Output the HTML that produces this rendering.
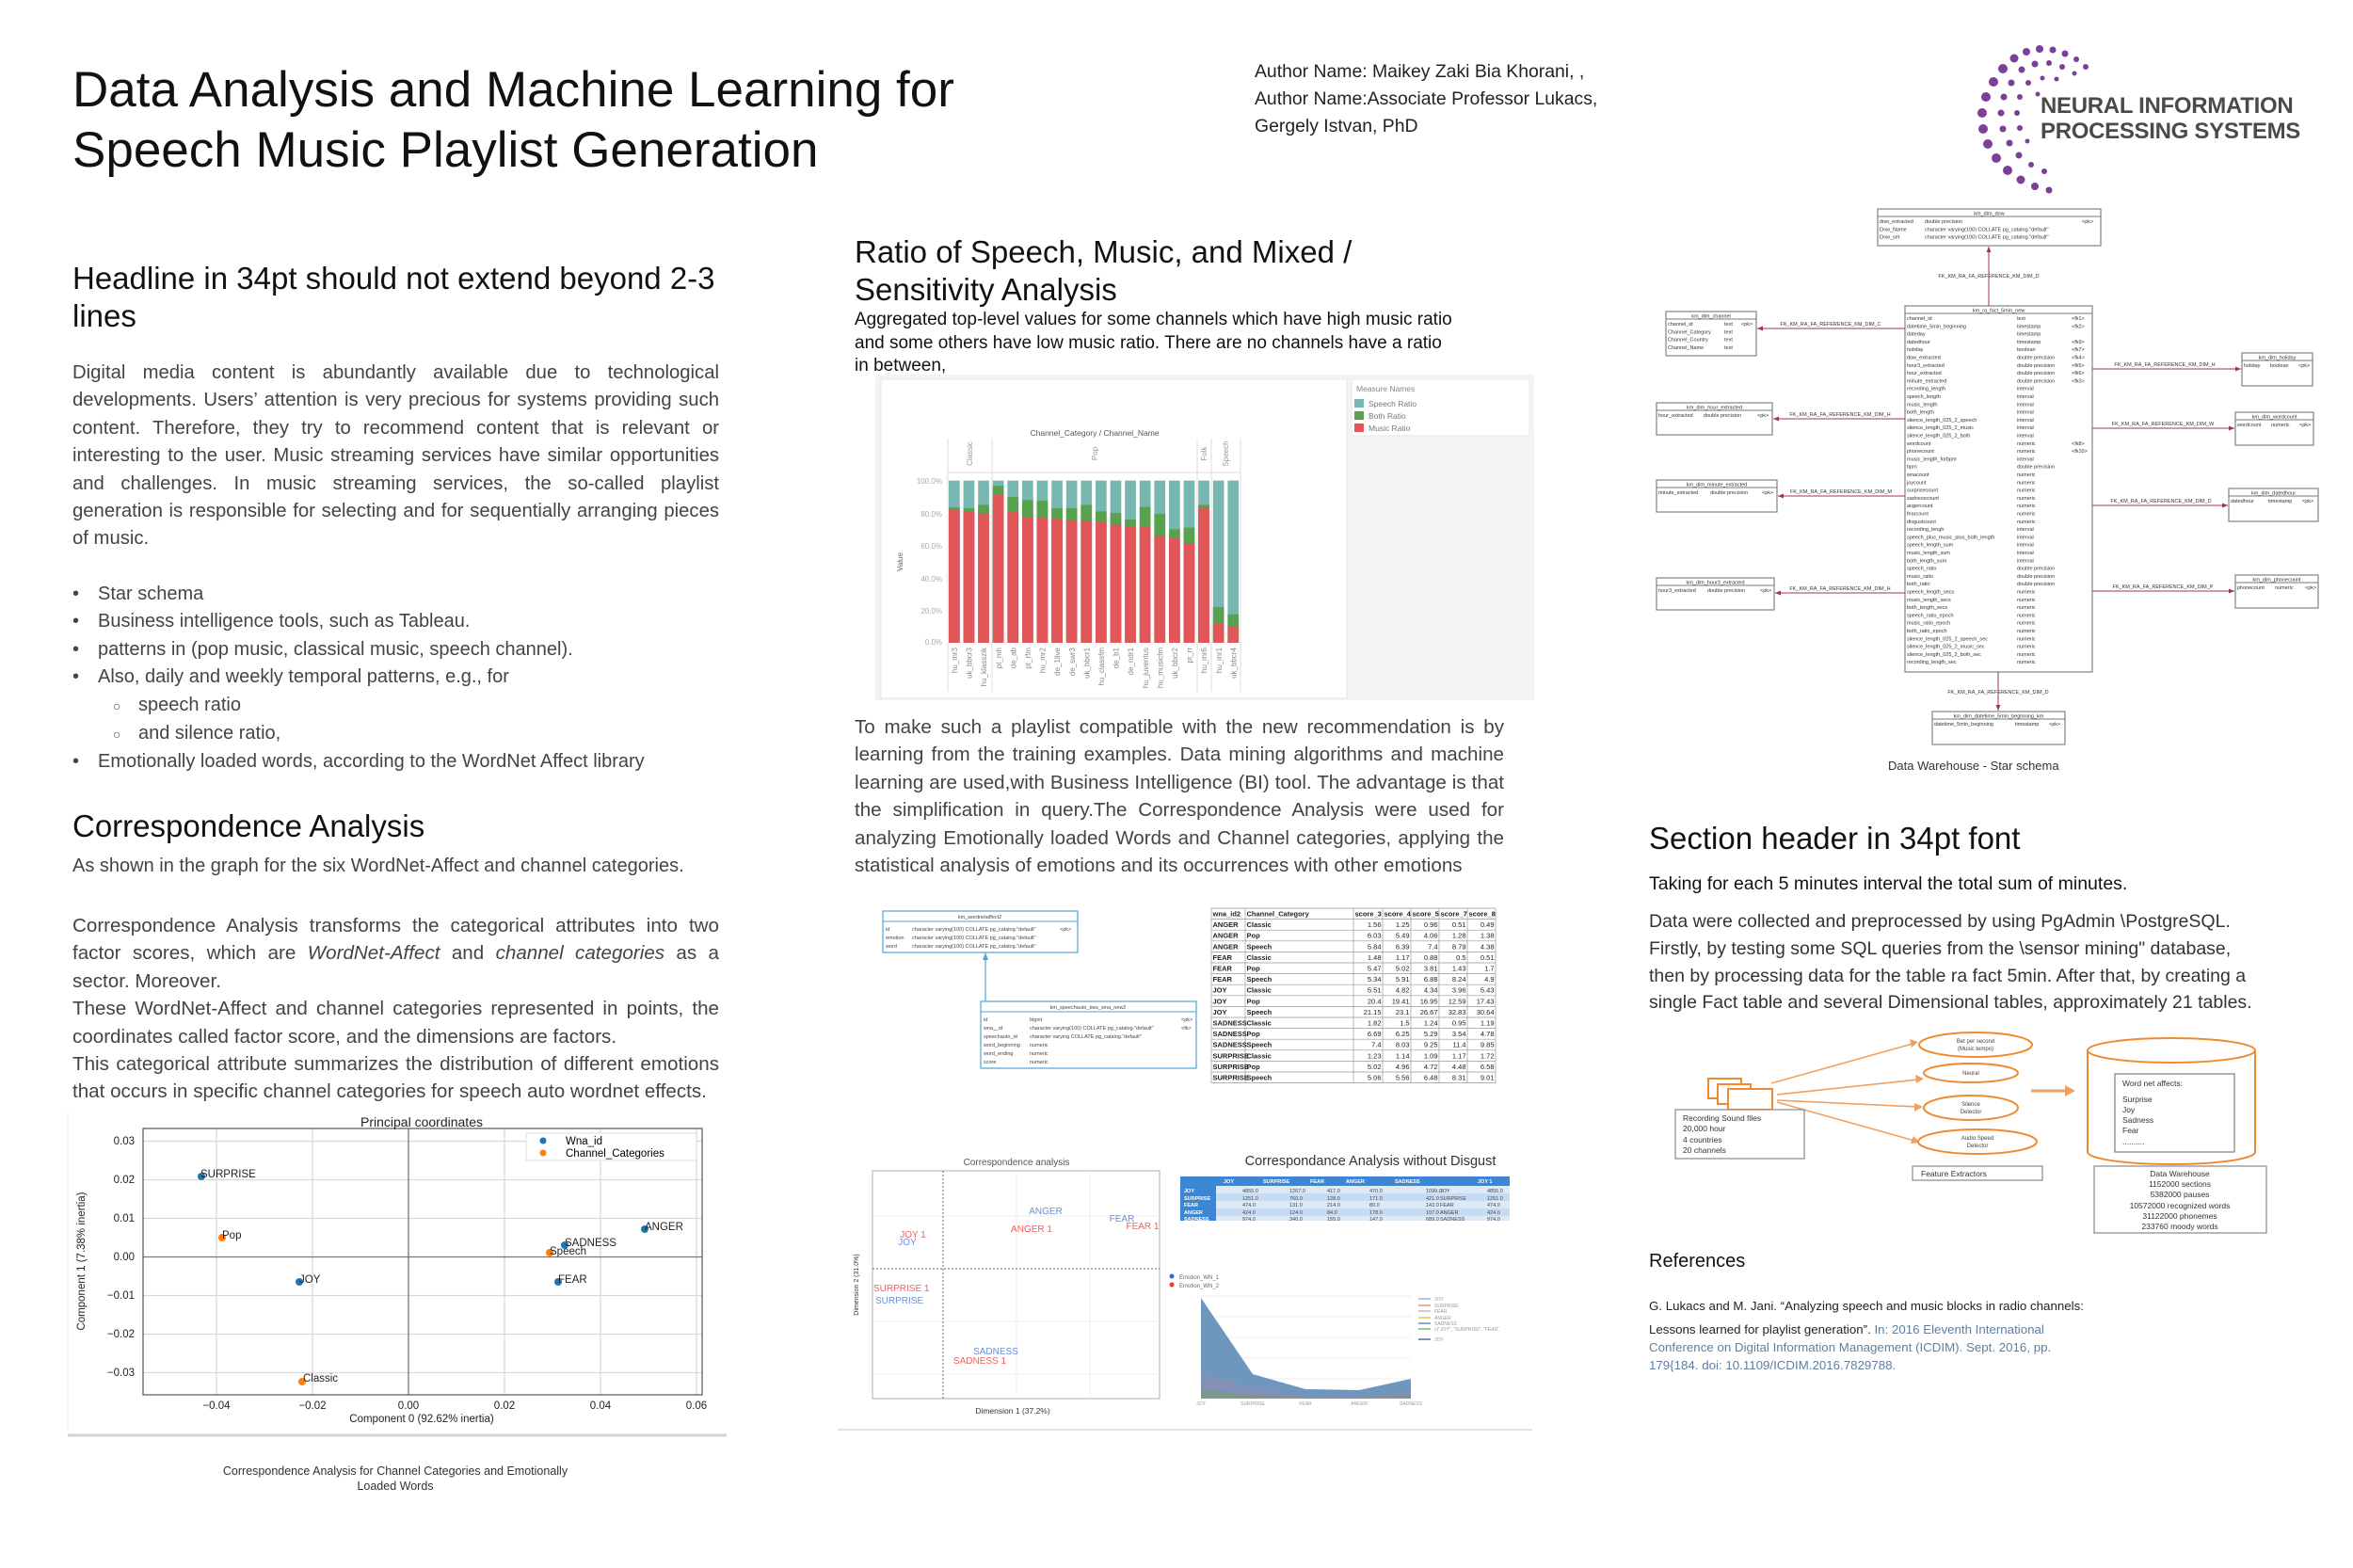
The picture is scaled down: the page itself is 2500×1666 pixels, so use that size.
<!DOCTYPE html>
<html><head><meta charset="utf-8"><style>
*{margin:0;padding:0;box-sizing:border-box}
body{width:2500px;height:1666px;background:#fff;position:relative;overflow:hidden;font-family:"Liberation Sans",Arial,sans-serif;color:#222}
.a{position:absolute;white-space:nowrap}
.p{position:absolute;font-size:20.6px;line-height:29.4px;text-align:justify;color:#444;white-space:normal}
.h{position:absolute;font-size:33px;line-height:40px;color:#111}
ul{list-style:none}
</style></head><body>

<div class="a" style="left:77px;top:64px;font-size:53px;line-height:64px;color:#111">Data Analysis and Machine Learning for<br>Speech Music Playlist Generation</div>
<div class="a" style="left:1333px;top:62px;font-size:19.4px;line-height:29px;color:#222">Author Name: Maikey Zaki Bia Khorani, ,<br>Author Name:Associate Professor Lukacs,<br>Gergely Istvan, PhD</div>
<div class="a" style="left:2168px;top:99px;font-size:24px;line-height:27px;color:#4a4a4a;font-weight:bold;letter-spacing:-0.3px">NEURAL INFORMATION<br>PROCESSING SYSTEMS</div>

<div class="h" style="left:77px;top:276px;width:700px">Headline in 34pt should not extend beyond 2-3<br>lines</div>
<div class="p" style="left:77px;top:382px;width:687px;font-size:20.3px">Digital media content is abundantly available due to technological developments. Users’ attention is very precious for systems providing such content. Therefore, they try to recommend content that is relevant or interesting to the user. Music streaming services have similar opportunities and challenges. In music streaming services, the so-called playlist generation is responsible for selecting and for sequentially arranging pieces of music.</div>
<div class="a" style="left:77px;top:617px;font-size:20px;line-height:29.4px;color:#444">
<div><span style="display:inline-block;width:27px">•</span>Star schema</div>
<div><span style="display:inline-block;width:27px">•</span>Business intelligence tools, such as Tableau.</div>
<div><span style="display:inline-block;width:27px">•</span>patterns in (pop music, classical music, speech channel).</div>
<div><span style="display:inline-block;width:27px">•</span>Also, daily and weekly temporal patterns, e.g., for</div>
<div style="padding-left:43px"><span style="display:inline-block;width:27px;font-size:14px">○</span>speech ratio</div>
<div style="padding-left:43px"><span style="display:inline-block;width:27px;font-size:14px">○</span>and silence ratio,</div>
<div><span style="display:inline-block;width:27px">•</span>Emotionally loaded words, according to the WordNet Affect library</div>
</div>
<div class="h" style="left:77px;top:858px">Correspondence Analysis</div>
<div class="a" style="left:77px;top:909px;font-size:20px;color:#444">As shown in the graph for the six WordNet-Affect and channel categories.</div>
<div class="p" style="left:77px;top:969px;width:687px">Correspondence Analysis transforms the categorical attributes into two factor scores, which are <i>WordNet-Affect</i> and <i>channel categories</i> as a sector. Moreover.<br>These WordNet-Affect and channel categories represented in points, the coordinates called factor score, and the dimensions are factors.<br>This categorical attribute summarizes the distribution of different emotions that occurs in specific channel categories for speech auto wordnet effects.</div>
<div class="a" style="left:180px;top:1555px;width:480px;text-align:center;font-size:12.5px;line-height:16px;color:#333;white-space:normal">Correspondence Analysis for Channel Categories and Emotionally<br>Loaded Words</div>

<div class="h" style="left:908px;top:248px">Ratio of Speech, Music, and Mixed /<br>Sensitivity Analysis</div>
<div class="a" style="left:908px;top:328px;font-size:19px;line-height:24.5px;color:#111">Aggregated top-level values for some channels which have high music ratio<br>and some others have low music ratio. There are no channels have a ratio<br>in between,</div>
<div class="p" style="left:908px;top:758px;width:690px">To make such a playlist compatible with the new recommendation is by learning from the training examples. Data mining algorithms and machine learning are used,with Business Intelligence (BI) tool. The advantage is that the simplification in query.The Correspondence Analysis were used for analyzing Emotionally loaded Words and Channel categories, applying the statistical analysis of emotions and its occurrences with other emotions</div>

<div class="a" style="left:2006px;top:806px;font-size:13px;color:#333">Data Warehouse - Star schema</div>
<div class="h" style="left:1752px;top:871px">Section header in 34pt font</div>
<div class="a" style="left:1752px;top:928px;font-size:19.5px;color:#111">Taking for each 5 minutes interval the total sum of minutes.</div>
<div class="a" style="left:1752px;top:965px;font-size:19.5px;line-height:28.8px;color:#333">Data were collected and preprocessed by using PgAdmin \PostgreSQL.<br>Firstly, by testing some SQL queries from the \sensor mining" database,<br>then by processing data for the table ra fact 5min. After that, by creating a<br>single Fact table and several Dimensional tables, approximately 21 tables.</div>
<div class="a" style="left:1752px;top:1329px;font-size:20px;color:#111">References</div>
<div class="a" style="left:1752px;top:1378px;font-size:13.3px;line-height:19px;color:#222">G. Lukacs and M. Jani. “Analyzing speech and music blocks in radio channels:</div>
<div class="a" style="left:1752px;top:1403px;font-size:13.3px;line-height:19px;color:#222">Lessons learned for playlist generation”. <span style="color:#5f7f9f">In: 2016 Eleventh International</span><br><span style="color:#5f7f9f">Conference on Digital Information Management (ICDIM). Sept. 2016, pp.<br>179{184. doi: 10.1109/ICDIM.2016.7829788.</span></div>

<svg class="a" style="left:0;top:0" width="2500" height="1666" viewBox="0 0 2500 1666" font-family="Liberation Sans, Arial, sans-serif">
<g fill="#7b3f98">
<circle cx="2140" cy="62" r="4.5"/><circle cx="2153" cy="55" r="4"/><circle cx="2167" cy="52" r="4"/><circle cx="2181" cy="53" r="3.5"/><circle cx="2194" cy="57" r="3.5"/><circle cx="2206" cy="63" r="3"/><circle cx="2216" cy="71" r="3"/><circle cx="2128" cy="73" r="5"/><circle cx="2118" cy="87" r="5"/><circle cx="2110" cy="103" r="5"/><circle cx="2106" cy="120" r="5"/><circle cx="2107" cy="137" r="5"/><circle cx="2112" cy="153" r="5"/><circle cx="2121" cy="168" r="5"/><circle cx="2133" cy="181" r="5"/><circle cx="2147" cy="191" r="4.5"/><circle cx="2162" cy="198" r="4"/><circle cx="2177" cy="202" r="3.5"/>
<circle cx="2148" cy="74" r="3.5"/><circle cx="2162" cy="68" r="3.5"/><circle cx="2177" cy="67" r="3"/><circle cx="2191" cy="71" r="3"/><circle cx="2204" cy="78" r="2.5"/><circle cx="2137" cy="88" r="3.5"/><circle cx="2129" cy="103" r="3.5"/><circle cx="2126" cy="120" r="3.5"/><circle cx="2128" cy="137" r="3.5"/><circle cx="2135" cy="152" r="3.5"/><circle cx="2145" cy="165" r="3.5"/><circle cx="2158" cy="175" r="3"/><circle cx="2172" cy="182" r="3"/><circle cx="2155" cy="88" r="3"/><circle cx="2170" cy="83" r="2.5"/><circle cx="2185" cy="84" r="2.5"/><circle cx="2146" cy="103" r="3"/><circle cx="2143" cy="120" r="3"/><circle cx="2146" cy="136" r="3"/><circle cx="2154" cy="150" r="2.5"/><circle cx="2165" cy="100" r="2.5"/>
</g>

<rect x="930" y="398" width="700" height="346" fill="#f3f3f3"/>
<rect x="936" y="403" width="495" height="339" fill="#fff" stroke="#e6e6e6"/>
<rect x="1436" y="403" width="189" height="60" fill="#fff" stroke="#e8e8e8"/>
<text x="1441" y="416" font-size="8.5" fill="#888">Measure Names</text>
<rect x="1439" y="424" width="10" height="9" fill="#76b7b2"/><text x="1454" y="432" font-size="8.5" fill="#777">Speech Ratio</text>
<rect x="1439" y="437" width="10" height="9" fill="#59a14f"/><text x="1454" y="445" font-size="8.5" fill="#777">Both Ratio</text>
<rect x="1439" y="450" width="10" height="9" fill="#e15759"/><text x="1454" y="458" font-size="8.5" fill="#777">Music Ratio</text>
<text x="1163" y="463" font-size="8.5" fill="#555" text-anchor="middle">Channel_Category / Channel_Name</text>
<g stroke="#ddd"><line x1="1007" y1="466" x2="1007" y2="735"/><line x1="1054" y1="466" x2="1054" y2="735"/><line x1="1272" y1="466" x2="1272" y2="735"/><line x1="1287" y1="466" x2="1287" y2="735"/><line x1="1318" y1="466" x2="1318" y2="735"/><line x1="1007" y1="502" x2="1318" y2="502"/></g>
<g font-size="8" fill="#999" text-anchor="middle">
<text transform="translate(1033,482) rotate(-90)">Classic</text><text transform="translate(1166,482) rotate(-90)">Pop</text><text transform="translate(1282,482) rotate(-90)">Folk</text><text transform="translate(1305,482) rotate(-90)">Speech</text>
</g>
<g font-size="8" fill="#aaa" text-anchor="end">
<text x="1001" y="514">100.0%</text><text x="1001" y="549">80.0%</text><text x="1001" y="583">60.0%</text><text x="1001" y="618">40.0%</text><text x="1001" y="652">20.0%</text><text x="1001" y="685">0.0%</text>
</g>
<text transform="translate(959,597) rotate(-90)" font-size="8" fill="#666" text-anchor="middle">Value</text>
<g id="bars"></g>
<g font-size="8" fill="#888" text-anchor="end" id="blabels"></g>

<g font-size="5.5" fill="#444">
<rect x="938" y="968" width="207" height="44" fill="#fff" stroke="#4aa3d8" stroke-width="1.2"/>
<line x1="938" y1="979" x2="1145" y2="979" stroke="#4aa3d8"/>
<text x="1041" y="976" text-anchor="middle">km_wordnetaffect2</text>
<text x="941" y="989">id</text><text x="969" y="989">character varying(100) COLLATE pg_catalog."default"</text><text x="1126" y="989">&lt;pk&gt;</text>
<text x="941" y="998">emotion</text><text x="969" y="998">character varying(100) COLLATE pg_catalog."default"</text>
<text x="941" y="1007">word</text><text x="969" y="1007">character varying(100) COLLATE pg_catalog."default"</text>
<line x1="1047" y1="1064" x2="1047" y2="1017" stroke="#4aa3d8" stroke-width="1.2"/><polygon points="1047,1012 1044,1020 1050,1020" fill="#4aa3d8"/>
<rect x="1042" y="1064" width="229" height="71" fill="#fff" stroke="#4aa3d8" stroke-width="1.2"/>
<line x1="1042" y1="1075" x2="1271" y2="1075" stroke="#4aa3d8"/>
<text x="1156" y="1072" text-anchor="middle">km_speechauto_kws_wna_new2</text>
<text x="1045" y="1085">id</text><text x="1094" y="1085">bigint</text><text x="1255" y="1085">&lt;pk&gt;</text>
<text x="1045" y="1094">wna__id</text><text x="1094" y="1094">character varying(100) COLLATE pg_catalog."default"</text><text x="1255" y="1094">&lt;fk&gt;</text>
<text x="1045" y="1103">speechauto_id</text><text x="1094" y="1103">character varying COLLATE pg_catalog."default"</text>
<text x="1045" y="1112">word_beginning</text><text x="1094" y="1112">numeric</text>
<text x="1045" y="1121">word_ending</text><text x="1094" y="1121">numeric</text>
<text x="1045" y="1130">score</text><text x="1094" y="1130">numeric</text>
</g>
<g id="tbl" font-size="7.5" font-weight="bold" fill="#222"></g>

<rect x="72" y="1181" width="700" height="344" fill="#fff"/>
<line x1="72" y1="1525" x2="772" y2="1525" stroke="#d0d4d6" stroke-width="3"/>
<line x1="72" y1="1181" x2="72" y2="1523" stroke="#eee"/>
<g stroke="#d8d8d8" stroke-width="1.3">
<line x1="230" y1="1199" x2="230" y2="1482"/><line x1="332" y1="1199" x2="332" y2="1482"/><line x1="536" y1="1199" x2="536" y2="1482"/><line x1="638" y1="1199" x2="638" y2="1482"/><line x1="740" y1="1199" x2="740" y2="1482"/>
<line x1="152" y1="1212.5" x2="746" y2="1212.5"/><line x1="152" y1="1253.5" x2="746" y2="1253.5"/><line x1="152" y1="1294.5" x2="746" y2="1294.5"/><line x1="152" y1="1376.5" x2="746" y2="1376.5"/><line x1="152" y1="1417.5" x2="746" y2="1417.5"/><line x1="152" y1="1458.5" x2="746" y2="1458.5"/>
</g>
<line x1="434" y1="1199" x2="434" y2="1482" stroke="#777" stroke-width="1.3"/><line x1="152" y1="1335.5" x2="746" y2="1335.5" stroke="#777" stroke-width="1.3"/>
<rect x="152" y="1199" width="594" height="283" fill="none" stroke="#555" stroke-width="1.2"/>
<text x="448" y="1197" font-size="14" fill="#222" text-anchor="middle">Principal coordinates</text>
<g font-size="11.5" fill="#222" text-anchor="end"><text x="143" y="1216">0.03</text><text x="143" y="1257">0.02</text><text x="143" y="1298">0.01</text><text x="143" y="1339">0.00</text><text x="143" y="1380">−0.01</text><text x="143" y="1421">−0.02</text><text x="143" y="1462">−0.03</text></g>
<g font-size="11.5" fill="#222" text-anchor="middle"><text x="230" y="1497">−0.04</text><text x="332" y="1497">−0.02</text><text x="434" y="1497">0.00</text><text x="536" y="1497">0.02</text><text x="638" y="1497">0.04</text><text x="740" y="1497">0.06</text></g>
<text x="448" y="1511" font-size="11.5" fill="#222" text-anchor="middle">Component 0 (92.62% inertia)</text>
<text transform="translate(90,1340) rotate(-90)" font-size="11.5" fill="#222" text-anchor="middle">Component 1 (7.38% inertia)</text>
<rect x="559" y="1204" width="181" height="29" fill="#fff" stroke="#ddd"/>
<circle cx="577" cy="1212" r="3.5" fill="#1f77b4"/><text x="601" y="1216" font-size="11.5">Wna_id</text>
<circle cx="577" cy="1225" r="3.5" fill="#ff7f0e"/><text x="601" y="1229" font-size="11.5">Channel_Categories</text>
<g font-size="11.5" fill="#222">
<circle cx="214" cy="1250" r="4" fill="#1f77b4"/><text x="213" y="1251">SURPRISE</text>
<circle cx="236" cy="1315" r="4" fill="#ff7f0e"/><text x="236" y="1316">Pop</text>
<circle cx="318" cy="1362" r="4" fill="#1f77b4"/><text x="318" y="1363">JOY</text>
<circle cx="321" cy="1468" r="4" fill="#ff7f0e"/><text x="322" y="1468">Classic</text>
<circle cx="600" cy="1323" r="4" fill="#1f77b4"/><text x="600" y="1324">SADNESS</text>
<circle cx="584" cy="1331" r="4" fill="#ff7f0e"/><text x="584" y="1333">Speech</text>
<circle cx="593" cy="1362" r="4" fill="#1f77b4"/><text x="593" y="1363">FEAR</text>
<circle cx="685" cy="1306" r="4" fill="#1f77b4"/><text x="685" y="1307">ANGER</text>
</g>

<line x1="890" y1="1519" x2="1628" y2="1519" stroke="#e2e2e2" stroke-width="2"/>
<text x="1080" y="1238" font-size="10" fill="#555" text-anchor="middle">Correspondence analysis</text>
<rect x="927" y="1244" width="305" height="242" fill="#fff" stroke="#bbb" stroke-width="1.2"/>
<g stroke="#eee"><line x1="927" y1="1292" x2="1232" y2="1292"/><line x1="927" y1="1404" x2="1232" y2="1404"/><line x1="927" y1="1460" x2="1232" y2="1460"/><line x1="1080" y1="1244" x2="1080" y2="1486"/><line x1="1158" y1="1244" x2="1158" y2="1486"/></g>
<line x1="1002" y1="1244" x2="1002" y2="1486" stroke="#666" stroke-dasharray="2,2"/>
<line x1="927" y1="1348" x2="1232" y2="1348" stroke="#666" stroke-dasharray="2,2"/>
<g font-size="10">
<text x="1111" y="1290" fill="#6a8fd6" text-anchor="middle">ANGER</text>
<text x="1096" y="1309" fill="#ef6060" text-anchor="middle">ANGER 1</text>
<text x="1192" y="1298" fill="#6a8fd6" text-anchor="middle">FEAR</text>
<text x="1214" y="1306" fill="#ef6060" text-anchor="middle">FEAR 1</text>
<text x="970" y="1315" fill="#ef6060" text-anchor="middle">JOY 1</text>
<text x="964" y="1323" fill="#6a8fd6" text-anchor="middle">JOY</text>
<text x="928" y="1372" fill="#ef6060">SURPRISE 1</text>
<text x="930" y="1385" fill="#6a8fd6">SURPRISE</text>
<text x="1058" y="1439" fill="#6a8fd6" text-anchor="middle">SADNESS</text>
<text x="1041" y="1449" fill="#ef6060" text-anchor="middle">SADNESS 1</text>
</g>
<text x="1076" y="1502" font-size="8.5" fill="#333" text-anchor="middle">Dimension 1 (37.2%)</text>
<text transform="translate(912,1365) rotate(-90)" font-size="7" fill="#333" text-anchor="middle">Dimension 2 (31.0%)</text>
<text x="1456" y="1238" font-size="14.5" fill="#333" text-anchor="middle">Correspondance Analysis without Disgust</text>
<rect x="1254" y="1250" width="350" height="10" fill="#3b87d6"/>
<rect x="1254" y="1260" width="350" height="37" fill="#dbe9f8"/>
<rect x="1254" y="1268" width="350" height="8" fill="#c7dcf3"/><rect x="1254" y="1284" width="350" height="8" fill="#c7dcf3"/>
<rect x="1254" y="1250" width="38" height="47" fill="#3b87d6"/>
<g font-size="5.5" fill="#fff" font-weight="bold"><text x="1258" y="1267">JOY</text><text x="1258" y="1275">SURPRISE</text><text x="1258" y="1282">FEAR</text><text x="1258" y="1290">ANGER</text><text x="1258" y="1297">SADNESS</text>
<text x="1300" y="1257">JOY</text><text x="1342" y="1257">SURPRISE</text><text x="1392" y="1257">FEAR</text><text x="1430" y="1257">ANGER</text><text x="1482" y="1257">SADNESS</text><text x="1570" y="1257">JOY 1</text></g>
<g font-size="5.5" fill="#444"><text x="1320" y="1267">4855.0</text><text x="1370" y="1267">1267.0</text><text x="1410" y="1267">417.0</text><text x="1455" y="1267">470.0</text><text x="1515" y="1267">1099.0</text><text x="1530" y="1267">JOY</text><text x="1580" y="1267">4855.0</text>
<text x="1320" y="1275">1251.0</text><text x="1370" y="1275">760.0</text><text x="1410" y="1275">128.0</text><text x="1455" y="1275">171.0</text><text x="1515" y="1275">421.0</text><text x="1530" y="1275">SURPRISE</text><text x="1580" y="1275">1251.0</text>
<text x="1320" y="1282">474.0</text><text x="1370" y="1282">131.0</text><text x="1410" y="1282">214.0</text><text x="1455" y="1282">80.0</text><text x="1515" y="1282">143.0</text><text x="1530" y="1282">FEAR</text><text x="1580" y="1282">474.0</text>
<text x="1320" y="1290">424.0</text><text x="1370" y="1290">124.0</text><text x="1410" y="1290">84.0</text><text x="1455" y="1290">178.0</text><text x="1515" y="1290">107.0</text><text x="1530" y="1290">ANGER</text><text x="1580" y="1290">424.0</text>
<text x="1320" y="1297">974.0</text><text x="1370" y="1297">340.0</text><text x="1410" y="1297">155.0</text><text x="1455" y="1297">147.0</text><text x="1515" y="1297">689.0</text><text x="1530" y="1297">SADNESS</text><text x="1580" y="1297">974.0</text></g>
<circle cx="1245" cy="1356" r="2.5" fill="#2e6fd0"/><text x="1253" y="1359" font-size="6" fill="#666">Emotion_WN_1</text>
<circle cx="1245" cy="1365" r="2.5" fill="#ee3b2b"/><text x="1253" y="1368" font-size="6" fill="#666">Emotion_WN_2</text>
<g stroke="#eee"><line x1="1276" y1="1377" x2="1499" y2="1377"/><line x1="1276" y1="1399" x2="1499" y2="1399"/><line x1="1276" y1="1421" x2="1499" y2="1421"/><line x1="1276" y1="1443" x2="1499" y2="1443"/><line x1="1276" y1="1465" x2="1499" y2="1465"/></g>
<polygon points="1276,1379 1331,1460 1387,1476 1444,1477 1499,1465 1499,1486 1276,1486" fill="#6f97bd"/>
<polygon points="1276,1459 1331,1474 1387,1483 1444,1484 1499,1478 1499,1486 1276,1486" fill="#8b8fb6" opacity=".7"/>
<polygon points="1276,1476 1331,1482 1387,1485 1444,1485 1499,1483 1499,1486 1276,1486" fill="#7a9a6a" opacity=".6"/>
<g stroke-width="2"><line x1="1507" y1="1380" x2="1520" y2="1380" stroke="#a9c9e8"/><line x1="1507" y1="1387" x2="1520" y2="1387" stroke="#f0b48a"/><line x1="1507" y1="1393" x2="1520" y2="1393" stroke="#ccc"/><line x1="1507" y1="1400" x2="1520" y2="1400" stroke="#f2d36b"/><line x1="1507" y1="1406" x2="1520" y2="1406" stroke="#8aa8d8"/><line x1="1507" y1="1412" x2="1520" y2="1412" stroke="#9fcb8a"/><line x1="1507" y1="1423" x2="1520" y2="1423" stroke="#7693b1"/></g>
<g font-size="5" fill="#999"><text x="1524" y="1382">JOY</text><text x="1524" y="1389">SURPRISE</text><text x="1524" y="1395">FEAR</text><text x="1524" y="1402">ANGER</text><text x="1524" y="1408">SADNESS</text><text x="1524" y="1414">c("JOY", "SURPRISE", "FEAR",</text><text x="1524" y="1425">JOY</text></g>
<g font-size="5" fill="#999" text-anchor="middle"><text x="1276" y="1493">JOY</text><text x="1331" y="1493">SURPRISE</text><text x="1387" y="1493">FEAR</text><text x="1444" y="1493">ANGER</text><text x="1499" y="1493">SADNESS</text></g>

<g stroke="#f0a060" stroke-width="1.6" fill="none">
<line x1="1882" y1="1151" x2="2032" y2="1109"/><line x1="1888" y1="1163" x2="2038" y2="1147"/><line x1="1888" y1="1169" x2="2037" y2="1176"/><line x1="1888" y1="1171" x2="2034" y2="1212"/>
</g>
<g fill="#f0a060"><polygon points="2038,1107 2029,1104 2031,1113"/><polygon points="2044,1146 2035,1142 2036,1151"/><polygon points="2043,1176 2034,1172 2034,1181"/><polygon points="2040,1214 2033,1207 2030,1215"/></g>
<line x1="2158" y1="1159" x2="2196" y2="1159" stroke="#f0a060" stroke-width="3"/><polygon points="2205,1159 2194,1153 2194,1165" fill="#f0a060"/>
<g fill="#fff" stroke="#f08a30" stroke-width="2">
<rect x="1815" y="1146" width="35" height="21"/><rect x="1825" y="1152" width="35" height="21"/><rect x="1836" y="1157" width="47" height="22"/>
<ellipse cx="2099" cy="1110" rx="60" ry="13"/><ellipse cx="2094" cy="1140" rx="50" ry="10"/><ellipse cx="2094" cy="1177" rx="50" ry="13"/><ellipse cx="2101" cy="1213" rx="63" ry="13"/>
<path d="M2218,1116 L2218,1224 A89,13 0 0 0 2396,1224 L2396,1116"/><ellipse cx="2307" cy="1116" rx="89" ry="13"/>
</g>
<rect x="2247" y="1141" width="127" height="83" fill="#fff" stroke="#666"/>
<rect x="1780" y="1179" width="137" height="52" fill="#fff" stroke="#888" stroke-width="1.2"/>
<rect x="2032" y="1239" width="138" height="15" fill="#fff" stroke="#888" stroke-width="1.2"/>
<rect x="2225" y="1239" width="183" height="71" fill="#fff" stroke="#888" stroke-width="1.2"/>
<g font-size="6" fill="#444" text-anchor="middle"><text x="2099" y="1108">Bet per second</text><text x="2099" y="1116">(Music tempo)</text><text x="2094" y="1142">Neural</text><text x="2094" y="1175">Silence</text><text x="2094" y="1183">Detector</text><text x="2101" y="1211">Audio Speed</text><text x="2101" y="1219">Detector</text></g>
<g font-size="8.5" fill="#333"><text x="1788" y="1191">Recording Sound files</text><text x="1788" y="1202">20,000  hour</text><text x="1788" y="1214">4 countries</text><text x="1788" y="1225">20 channels</text>
<text x="2041" y="1250">Feature Extractors</text>
<text x="2255" y="1154">Word net affects:</text><text x="2255" y="1171">Surprise</text><text x="2255" y="1182">Joy</text><text x="2255" y="1193">Sadness</text><text x="2255" y="1204">Fear</text><text x="2255" y="1216">..........</text></g>
<g font-size="8.5" fill="#333" text-anchor="middle"><text x="2316" y="1250">Data Warehouse</text><text x="2316" y="1261">1152000  sections</text><text x="2316" y="1272">5382000  pauses</text><text x="2316" y="1284">10572000  recognized words</text><text x="2316" y="1295">31122000  phonemes</text><text x="2316" y="1306">233760  moody words</text></g>

<g id="star" font-size="5.5" fill="#333"></g>
</svg>

<script>
(function(){
var NS="http://www.w3.org/2000/svg";
function el(p,t,a,txt){var e=document.createElementNS(NS,t);for(var k in a)e.setAttribute(k,a[k]);if(txt!==undefined)e.textContent=txt;p.appendChild(e);return e;}
var bars=document.getElementById('bars'),bl=document.getElementById('blabels');
var d=[["hu_mr3",82,83.4],["uk_bbcr3",81,83],["hu_klasszik",80,85],["pt_mh",91.4,96.7],["de_ab",81,90],["pt_rfm",77.7,88],["hu_mr2",77,87.5],["de_1live",76,83],["de_swr3",75.6,83],["uk_bbcr1",75,85],["hu_classfm",74.6,81],["de_b1",72.9,80],["de_ndr1",72,76],["hu_juventus",71.7,83.8],["hu_musicfm",66,79.5],["uk_bbcr2",64.6,70],["pt_rr",61,71],["hu_mr6",83.2,85],["hu_mr1",12,22],["uk_bbcr4",9.8,17.6]];
var top=510.6,h=172.4;
d.forEach(function(r,i){var x=1008+i*15.6;
 el(bars,'rect',{x:x,y:top,width:11.7,height:h,fill:'#76b7b2'});
 var by=top+h*(1-r[2]/100);el(bars,'rect',{x:x,y:by,width:11.7,height:top+h-by,fill:'#59a14f'});
 var my=top+h*(1-r[1]/100);el(bars,'rect',{x:x,y:my,width:11.7,height:top+h-my,fill:'#e15759'});
 el(bl,'text',{transform:'translate('+(x+9)+',688) rotate(-90)'},r[0]);
});
var t=document.getElementById('tbl');
var rows=[["wna_id2","Channel_Category","score_3","score_4","score_5","score_7","score_8"],["ANGER","Classic","1.56","1.25","0.96","0.51","0.49"],["ANGER","Pop","6.03","5.49","4.06","1.28","1.38"],["ANGER","Speech","5.84","6.39","7.4","8.79","4.38"],["FEAR","Classic","1.48","1.17","0.88","0.5","0.51"],["FEAR","Pop","5.47","5.02","3.81","1.43","1.7"],["FEAR","Speech","5.34","5.91","6.88","8.24","4.9"],["JOY","Classic","5.51","4.82","4.34","3.96","5.43"],["JOY","Pop","20.4","19.41","16.95","12.59","17.43"],["JOY","Speech","21.15","23.1","26.67","32.83","30.64"],["SADNESS","Classic","1.82","1.5","1.24","0.95","1.19"],["SADNESS","Pop","6.69","6.25","5.29","3.54","4.78"],["SADNESS","Speech","7.4","8.03","9.25","11.4","9.85"],["SURPRISE","Classic","1.23","1.14","1.09","1.17","1.72"],["SURPRISE","Pop","5.02","4.96","4.72","4.48","6.58"],["SURPRISE","Speech","5.06","5.56","6.48","8.31","9.01"]];
var cx=[1287,1323,1438,1469,1499,1529,1559,1589],y0=965,rh=11.6;
for(var i=0;i<=16;i++)el(t,'line',{x1:1287,y1:y0+i*rh,x2:1589,y2:y0+i*rh,stroke:'#999','stroke-width':0.7});
cx.forEach(function(x){el(t,'line',{x1:x,y1:y0,x2:x,y2:y0+16*rh,stroke:'#999','stroke-width':0.7});});
rows.forEach(function(r,i){var y=y0+i*rh+8.5;r.forEach(function(v,j){
 if(j<2||i==0)el(t,'text',{x:cx[j]+1.5,y:y},v);else el(t,'text',{x:cx[j+1]-1.5,y:y,'text-anchor':'end','font-weight':'normal'},v);});});
var s=document.getElementById('star');
function box(x1,y1,x2,y2,title,lines,cols){el(s,'rect',{x:x1,y:y1,width:x2-x1,height:y2-y1,fill:'#fff',stroke:'#777','stroke-width':1.1});
 el(s,'line',{x1:x1,y1:y1+8,x2:x2,y2:y1+8,stroke:'#777'});el(s,'text',{x:(x1+x2)/2,y:y1+6.5,'text-anchor':'middle'},title);
 lines.forEach(function(l,i){l.forEach(function(v,j){el(s,'text',{x:x1+2+cols[j],y:y1+15+i*8.3},v);});});}
function conn(x1,y1,x2,y2,lab,lx,ly){el(s,'line',{x1:x1,y1:y1,x2:x2,y2:y2,stroke:'#a0306a','stroke-width':1});
 var dx=x2-x1,dy=y2-y1,L=Math.sqrt(dx*dx+dy*dy),ux=dx/L,uy=dy/L;
 el(s,'polygon',{points:x2+','+y2+' '+(x2-ux*6-uy*2.5)+','+(y2-uy*6+ux*2.5)+' '+(x2-ux*6+uy*2.5)+','+(y2-uy*6-ux*2.5),fill:'#a0306a'});
 el(s,'text',{x:lx,y:ly,'text-anchor':'middle'},lab);}
box(1995,222,2232,261,'km_dim_dow',[["dow_extracted","double precision","<pk>"],["Dow_Name","character varying(100) COLLATE pg_catalog.\"default\"",""],["Dow_set","character varying(100) COLLATE pg_catalog.\"default\"",""]],[0,48,215]);
var f=["channel_id|text|<fk1>","datetime_5min_beginning|timestamp|<fk2>","dateday|timestamp|","datedhour|timestamp|<fk9>","holiday|boolean|<fk7>","dow_extracted|double precision|<fk4>","hour3_extracted|double precision|<fk5>","hour_extracted|double precision|<fk6>","minute_extracted|double precision|<fk3>","recording_length|interval|","speech_length|interval|","music_length|interval|","both_length|interval|","silence_length_025_2_speech|interval|","silence_length_025_2_music|interval|","silence_length_025_2_both|interval|","wordcount|numeric|<fk8>","phonecount|numeric|<fk10>","music_length_forbpm|interval|","bpm|double precision|","wnacount|numeric|","joycount|numeric|","surprisecount|numeric|","sadnesscount|numeric|","angercount|numeric|","fearcount|numeric|","disgustcount|numeric|","recording_lengh|interval|","speech_plus_music_plus_both_length|interval|","speech_length_sum|interval|","music_length_sum|interval|","both_length_sum|interval|","speech_ratio|double precision|","music_ratio|double precision|","both_ratio|double precision|","speech_length_secs|numeric|","music_length_secs|numeric|","both_length_secs|numeric|","speech_ratio_epoch|numeric|","music_ratio_epoch|numeric|","both_ratio_epoch|numeric|","silence_length_025_2_speech_sec|numeric|","silence_length_025_2_music_sec|numeric|","silence_length_025_2_both_sec|numeric|","recording_length_sec|numeric|"].map(function(x){return x.split('|');});
box(2024,325,2223,714,'km_ra_fact_5min_new',f,[0,117,175]);
box(1770,331,1866,378,'km_dim_channel',[["channel_id","text","<pk>"],["Channel_Category","text",""],["Channel_Country","text",""],["Channel_Name","text",""]],[0,60,78]);
box(1760,428,1883,462,'km_dim_hour_extracted',[["hour_extracted","double precision","<pk>"]],[0,48,105]);
box(1760,510,1888,544,'km_dim_minute_extracted',[["minute_extracted","double precision","<pk>"]],[0,55,110]);
box(1760,614,1885,648,'km_dim_hour3_extracted',[["hour3_extracted","double precision","<pk>"]],[0,52,108]);
box(2382,375,2457,410,'km_dim_holiday',[["holiday","boolean","<pk>"]],[0,28,58]);
box(2375,438,2458,473,'km_dim_wordcount',[["wordcount","numeric","<pk>"]],[0,36,66]);
box(2368,519,2463,554,'km_dim_datedhour',[["datedhour","timestamp","<pk>"]],[0,40,76]);
box(2375,611,2463,646,'km_dim_phonecount',[["phonecount","numeric","<pk>"]],[0,40,72]);
box(2053,756,2194,791,'km_dim_datetime_5min_beginning_km',[["datetime_5min_beginning","timestamp","<pk>"]],[0,86,122]);
conn(2113,325,2113,262,'FK_KM_RA_FA_REFERENCE_KM_DIM_D',2113,295);
conn(2024,349,1867,349,'FK_KM_RA_FA_REFERENCE_KM_DIM_C',1945,346);
conn(2024,445,1884,445,'FK_KM_RA_FA_REFERENCE_KM_DIM_H',1955,442);
conn(2024,527,1889,527,'FK_KM_RA_FA_REFERENCE_KM_DIM_M',1956,524);
conn(2024,630,1886,630,'FK_KM_RA_FA_REFERENCE_KM_DIM_H',1955,627);
conn(2223,392,2381,392,'FK_KM_RA_FA_REFERENCE_KM_DIM_H',2300,389);
conn(2223,455,2374,455,'FK_KM_RA_FA_REFERENCE_KM_DIM_W',2298,452);
conn(2223,537,2367,537,'FK_KM_RA_FA_REFERENCE_KM_DIM_D',2296,534);
conn(2223,628,2374,628,'FK_KM_RA_FA_REFERENCE_KM_DIM_P',2298,625);
conn(2123,714,2123,755,'FK_KM_RA_FA_REFERENCE_KM_DIM_D',2123,737);
})();
</script>
</body></html>
